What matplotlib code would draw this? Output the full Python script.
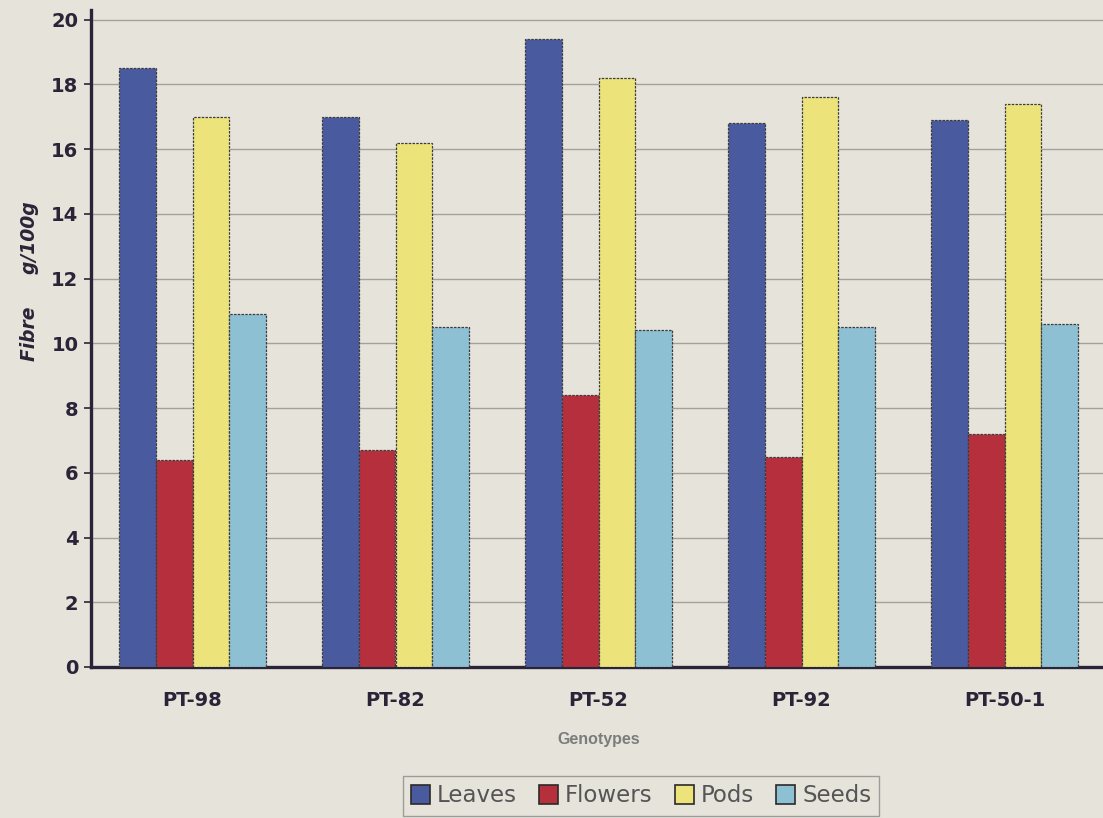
import numpy as np
import matplotlib
matplotlib.use("Agg")
import matplotlib.pyplot as plt
from matplotlib.patches import Patch

# Fibre content (g/100g) of plant parts for each genotype
genotypes = ["PT-98", "PT-82", "PT-52", "PT-92", "PT-50-1"]
parts = ["Leaves", "Flowers", "Pods", "Seeds"]
leaves = [18.5, 17.0, 19.4, 16.8, 16.9]
flowers = [6.4, 6.7, 8.4, 6.5, 7.2]
pods = [17.0, 16.2, 18.2, 17.6, 17.4]
seeds = [10.9, 10.5, 10.4, 10.5, 10.6]
yticks = [0, 2, 4, 6, 8, 10, 12, 14, 16, 18, 20]

series = [leaves, flowers, pods, seeds]
colors = ["#4a5a9e", "#b5303c", "#ece47a", "#8ec0d3"]

bg = "#e6e3db"
fig = plt.figure(figsize=(11.03, 8.18), dpi=100, facecolor=bg)
ax = fig.add_axes([91 / 1103, 1 - 667 / 818, 1015 / 1103, 657 / 818])
ax.set_facecolor(bg)

x = np.arange(len(genotypes))
width = 0.182
offsets = (np.arange(len(parts)) - 1.5) * width
for vals, off, col, name in zip(series, offsets, colors, parts):
    ax.bar(x + off, vals, width, color=col, edgecolor="#3c3c40",
           linewidth=0.9, linestyle=(0, (2, 1)), label=name, zorder=3)

ax.set_xlim(-0.5, len(genotypes) - 0.5)
ax.set_ylim(0, 20.3)
ax.set_yticks(yticks)
ax.set_yticklabels([str(t) for t in yticks], fontsize=14, fontweight="bold",
                   color="#2a2438", family="DejaVu Sans")
ax.set_xticks(x)
ax.set_xticklabels(genotypes, fontsize=14, fontweight="bold",
                   color="#2a2438", family="DejaVu Sans")
ax.tick_params(axis="y", length=5, width=1.2, color="#2a2438", pad=4)
ax.tick_params(axis="x", length=0, pad=17)

ax.grid(axis="y", color="#a3a199", linewidth=1.0, zorder=0)
for s in ["top", "right"]:
    ax.spines[s].set_visible(False)
for s in ["left", "bottom"]:
    ax.spines[s].set_color("#2a2438")
    ax.spines[s].set_linewidth(2.4)

ax.set_xlabel("Genotypes", fontsize=11.5, fontweight="bold", color="#7c7c7c",
              family="Liberation Sans", labelpad=16)

fig.text(30 / 1103, 1 - 281 / 818, "Fibre     g/100g", rotation=90,
         ha="center", va="center", fontsize=13.5, fontstyle="italic",
         fontweight="bold", color="#2a2438", family="DejaVu Sans")

handles = [Patch(facecolor=c, edgecolor="#2a2a2a", linewidth=1.2, label=n)
           for c, n in zip(colors, parts)]
leg = fig.legend(handles=handles, loc="center", ncol=4,
                 bbox_to_anchor=(641 / 1103, 1 - 796 / 818),
                 frameon=True, fancybox=False,
                 handlelength=0.85, handleheight=0.85, handletextpad=0.3,
                 columnspacing=0.95, borderpad=0.35,
                 prop={"family": "DejaVu Sans", "size": 16.5})
leg.get_frame().set_facecolor(bg)
leg.get_frame().set_edgecolor("#8a8a88")
leg.get_frame().set_linewidth(1.0)
for t in leg.get_texts():
    t.set_color("#555555")

fig.savefig("out.png", dpi=100, facecolor=bg)
